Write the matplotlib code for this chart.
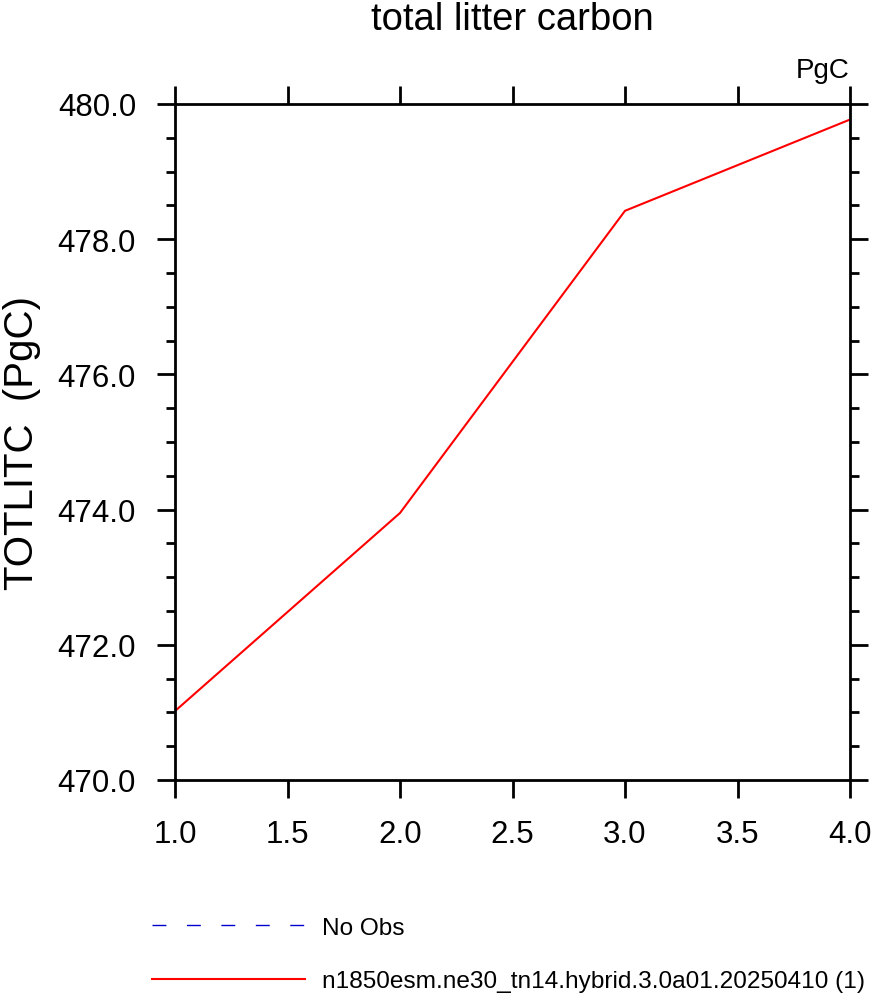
import numpy as np
import matplotlib.pyplot as plt
from matplotlib.ticker import MultipleLocator, FormatStrFormatter

plt.rcParams['font.family'] = ['Liberation Sans', 'DejaVu Sans']

# data
years = [1.0, 2.0, 3.0, 4.0]
totlitc = [471.02, 473.95, 478.42, 479.77]
obs_x = []
obs_y = []

case_name = "n1850esm.ne30_tn14.hybrid.3.0a01.20250410 (1)"


def plot_totlitc():
    fig = plt.figure(figsize=(8.71, 9.95), dpi=100)
    ax = fig.add_axes([175/871, 1 - 781/995, 675/871, 676/995])

    obs_line, = ax.plot(obs_x, obs_y, color='#0000cc', lw=1.0,
                        dashes=(10, 14.8), label='No Obs')
    model_line, = ax.plot(years, totlitc, color='red', lw=1.5, label=case_name)

    ax.set_xlim(1.0, 4.0)
    ax.set_ylim(470.0, 480.0)
    ax.xaxis.set_major_locator(MultipleLocator(0.5))
    ax.yaxis.set_major_locator(MultipleLocator(2.0))
    ax.yaxis.set_minor_locator(MultipleLocator(0.5))
    ax.xaxis.set_major_formatter(FormatStrFormatter('%.1f'))
    ax.yaxis.set_major_formatter(FormatStrFormatter('%.1f'))

    for s in ax.spines.values():
        s.set_linewidth(2.0)
    ax.tick_params(which='both', direction='out', top=True, right=True,
                   width=2.0, labelsize=22.5)
    ax.tick_params(which='major', length=13, pad=15)
    ax.tick_params(which='minor', length=6.5)

    ax.set_ylabel('TOTLITC  (PgC)', fontsize=29, labelpad=12)
    ax.text(1.0, (781 - 78) / 676, 'PgC', transform=ax.transAxes,
            ha='right', va='baseline', fontsize=20)
    fig.text(512.5/871, 1 - 30/995, 'total litter carbon',
             ha='center', va='baseline', fontsize=27.5)

    fig.legend([obs_line, model_line], ['No Obs', case_name],
               loc='center left', bbox_to_anchor=(152/871, 1 - 955.5/995),
               frameon=False, fontsize=17.6, borderpad=0, borderaxespad=0,
               handlelength=6.27, handletextpad=0.7, labelspacing=1.3)

    fig.savefig('out.png', dpi=100)


if __name__ == "__main__":
    plot_totlitc()
